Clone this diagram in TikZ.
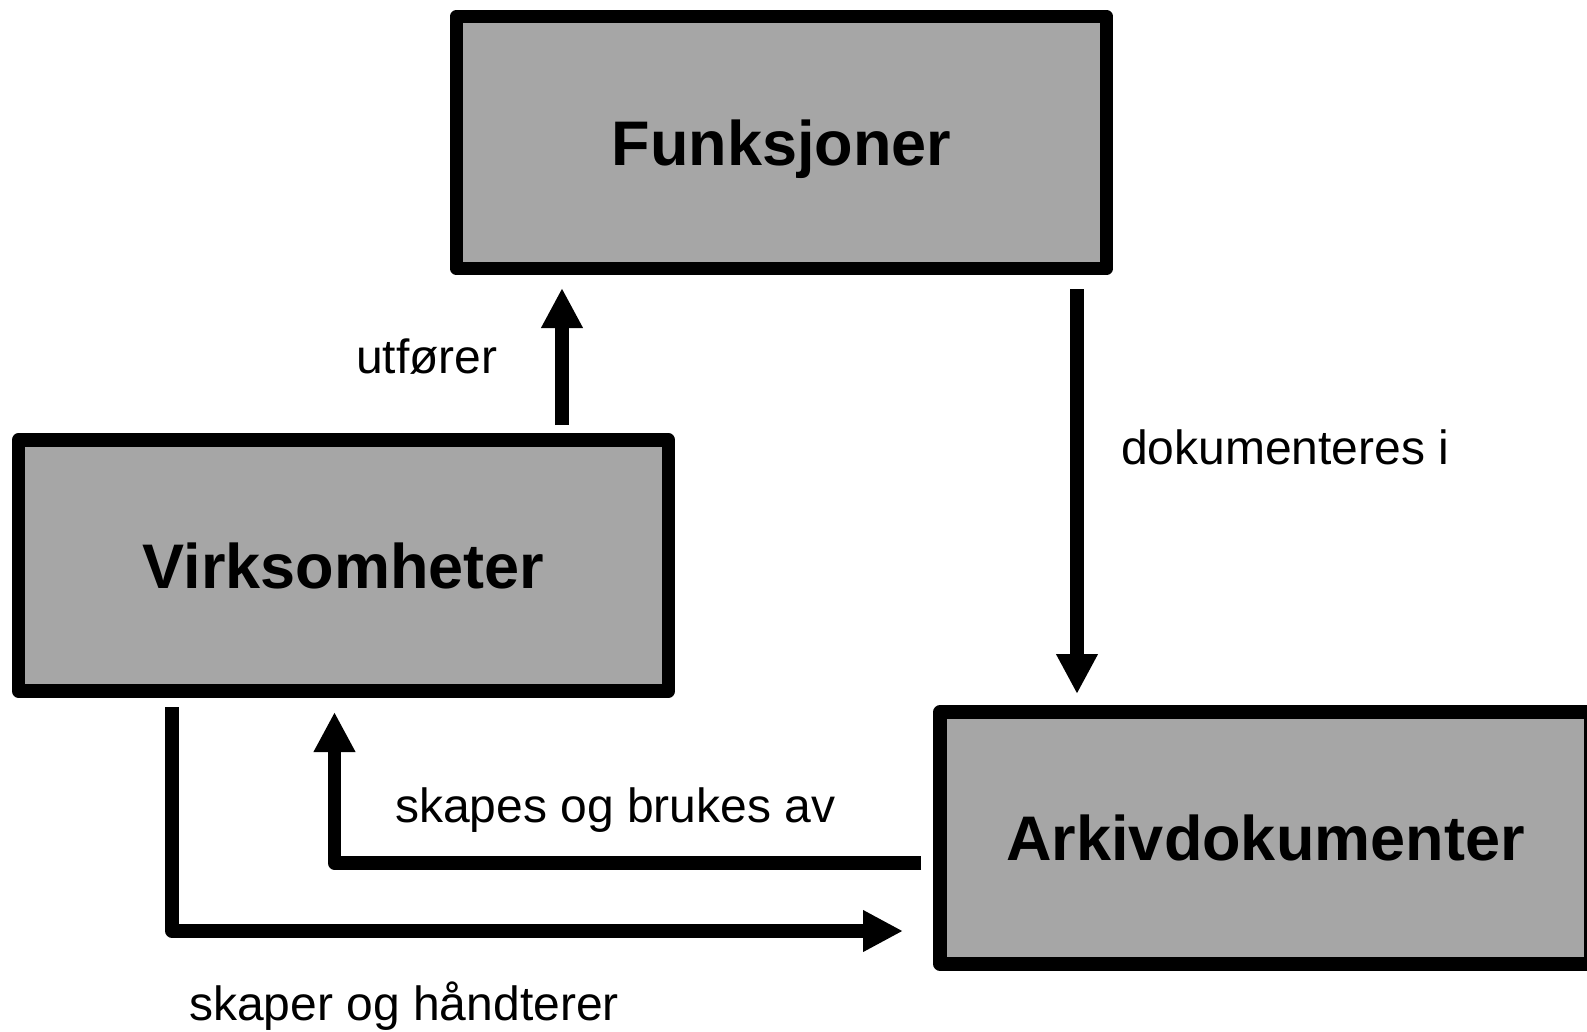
\documentclass[tikz,border=0pt]{standalone}
\usepackage{fontspec}
\setmainfont{Liberation Sans}
\usetikzlibrary{arrows.meta}
\definecolor{boxgray}{RGB}{166,166,166}
\tikzset{
  box/.style={draw=black, fill=boxgray, line width=13.5pt, line join=round,
    rectangle, inner sep=0pt, font=\fontsize{63}{70}\selectfont\bfseries,
    text height=45pt, text depth=0pt},
  arr/.style={line width=13.5pt, line join=round, -{Triangle[length=40pt,width=39pt]}},
  lbl/.style={anchor=base west, inner sep=0pt, font=\fontsize{48}{56}\selectfont}
}
\begin{document}
\begin{tikzpicture}[x=1pt,y=-1pt]
\useasboundingbox (0,0) rectangle (1587,1031);
\clip (0,0) rectangle (1587,1031);
\node[box, minimum width=650pt, minimum height=252pt] (f) at (781.5,142.5) {Funksjoner};
\node[box, minimum width=650pt, minimum height=251pt] (v) at (343.5,565.5) {Virksomheter};
\node[box, minimum width=651pt, minimum height=252pt] (a) at (1265.5,838) {Arkivdokumenter};
% connector end points
\coordinate (u1) at (562,425);
\coordinate (u2) at (562,288);
\coordinate (d1) at (1077,289);
\coordinate (d2) at (1077,694);
\coordinate (s1) at (921,863);
\coordinate (s2) at (334.5,863);
\coordinate (s3) at (334.5,712);
\coordinate (h1) at (172,707);
\coordinate (h2) at (172,931);
\coordinate (h3) at (903,931);
\draw[arr] (u1) -- (u2);
\draw[arr] (d1) -- (d2);
\draw[arr] (s1) -- (s2) -- (s3);
\draw[arr] (h1) -- (h2) -- (h3);
\node[lbl] (lu) at (356,373.5) {utfører};
\node[lbl] (ld) at (1121,464.5) {dokumenteres i};
\node[lbl] (ls) at (395,822) {skapes og brukes av};
\node[lbl] (lh) at (189,1020) {skaper og håndterer};
\end{tikzpicture}
\end{document}
